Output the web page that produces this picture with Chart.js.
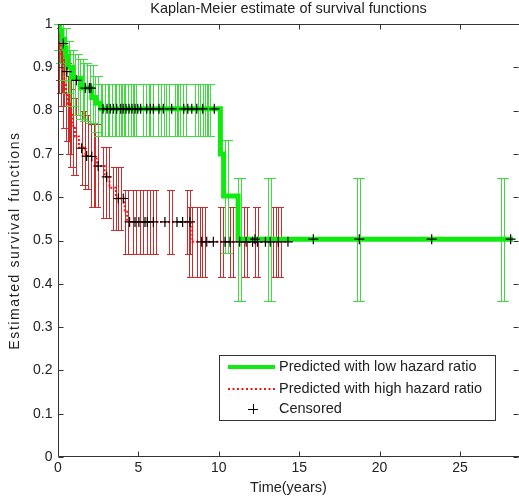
<!DOCTYPE html>
<html><head><meta charset="utf-8">
<script src="https://cdn.jsdelivr.net/npm/chart.js@4.4.0/dist/chart.umd.min.js"></script>
<style>html,body{margin:0;padding:0;background:#fff;}</style>
</head><body>
<canvas id="c" width="519" height="500"></canvas>
<script>
// ---------- data ----------
const chartTitle = 'Kaplan-Meier estimate of survival functions';
const xTitle = 'Time(years)';
const yTitle = 'Estimated survival functions';
const xTicks = [0, 5, 10, 15, 20, 25];
const yTicks = [0, 0.1, 0.2, 0.3, 0.4, 0.5, 0.6, 0.7, 0.8, 0.9, 1];
const legendLabels = ['Predicted with low hazard ratio', 'Predicted with high hazard ratio', 'Censored'];

// low hazard ratio group (green)
const lowTimes = [0, 0.1, 0.25, 0.4, 0.5, 0.6, 0.9, 1.4, 2.1, 2.35, 2.65, 10.1, 10.3, 11.2, 28.3];
const lowSurv  = [1, 0.985, 0.965, 0.945, 0.925, 0.9, 0.875, 0.852, 0.83, 0.817, 0.804, 0.70, 0.603, 0.503, 0.503];

// high hazard ratio group (red)
const highTimes = [0, 0.1, 0.2, 0.3, 0.4, 0.5, 0.6, 0.75, 0.9, 1.05, 1.3, 1.7, 2.4, 2.9, 3.2, 3.6, 4.15, 4.3, 8.35, 14.3];
const highSurv  = [1, 0.955, 0.925, 0.895, 0.865, 0.84, 0.815, 0.79, 0.765, 0.74, 0.715, 0.695, 0.672, 0.647, 0.622, 0.597, 0.57, 0.543, 0.497, 0.497];

// censored observations
const censLowT = [0.33, 0.55, 1.15, 1.7, 1.95, 2.05,
  2.8, 3.05, 3.25, 3.45, 3.65, 3.9, 4.05, 4.23, 4.42, 4.6, 4.79, 4.96, 5.14, 5.52, 5.74, 5.93, 6.28, 6.55, 7.07, 7.82, 8.07, 8.32, 8.63, 9.0, 9.72,
  12.25, 15.88, 18.74, 23.24, 28.15];
const censLowS = [0.955, 0.89, 0.87, 0.852, 0.852, 0.852,
  0.804, 0.804, 0.804, 0.804, 0.804, 0.804, 0.804, 0.804, 0.804, 0.804, 0.804, 0.804, 0.804, 0.804, 0.804, 0.804, 0.804, 0.804, 0.804, 0.804, 0.804, 0.804, 0.804, 0.804, 0.804,
  0.503, 0.503, 0.503, 0.503, 0.503];
const censHighT = [1.47, 1.78, 2.1, 2.5, 3.03, 3.75, 4.06,
  4.45, 4.79, 5.03, 5.41, 5.55, 5.93, 6.65, 7.4, 7.75, 8.21,
  8.94, 9.25, 9.66, 10.39, 10.7, 11.3, 11.7, 12.1, 12.4, 12.9, 13.2, 13.7, 14.3];
const censHighS = [0.713, 0.695, 0.694, 0.672, 0.647, 0.597, 0.597,
  0.543, 0.543, 0.543, 0.543, 0.543, 0.543, 0.543, 0.543, 0.543, 0.543,
  0.497, 0.497, 0.497, 0.497, 0.497, 0.497, 0.497, 0.497, 0.497, 0.497, 0.497, 0.497, 0.497];

// confidence intervals (error bars)
const lowErrT  = [0.1, 0.25, 0.45, 0.6, 0.9, 1.2, 1.5, 1.75, 2.1, 2.4,
  2.6, 2.85, 3.05, 3.3, 3.5, 3.75, 3.92, 4.06, 4.31, 4.48, 4.68, 4.79, 5.41, 5.62, 5.83, 6.34, 6.51, 6.82, 7.38, 7.54, 7.69, 7.9, 8.63, 8.94, 9.25, 9.41,
  10.5, 11.3, 13.2, 18.74, 27.7];
const lowErrLo = [0.94, 0.91, 0.87, 0.84, 0.81, 0.79, 0.78, 0.775, 0.771, 0.75,
  0.741, 0.741, 0.741, 0.741, 0.741, 0.741, 0.741, 0.741, 0.741, 0.741, 0.741, 0.741, 0.741, 0.741, 0.741, 0.741, 0.741, 0.741, 0.741, 0.741, 0.741, 0.741, 0.741, 0.741, 0.741, 0.741,
  0.471, 0.36, 0.36, 0.36, 0.36];
const lowErrHi = [1.0, 1.0, 0.99, 0.96, 0.94, 0.93, 0.92, 0.91, 0.905, 0.88,
  0.861, 0.861, 0.861, 0.861, 0.861, 0.861, 0.861, 0.861, 0.861, 0.861, 0.861, 0.861, 0.861, 0.861, 0.861, 0.861, 0.861, 0.861, 0.861, 0.861, 0.861, 0.861, 0.861, 0.861, 0.861, 0.861,
  0.732, 0.644, 0.644, 0.644, 0.644];

const highErrT  = [0.1, 0.2, 0.3, 0.45, 0.6, 0.75, 0.9, 1.05, 1.6, 1.8, 2.2, 2.4, 2.9, 3.1, 3.55, 3.85,
  4.27, 4.79, 5.2, 5.68, 6.03, 7.0, 8.17,
  8.3, 8.75, 9.1, 10.2, 10.85, 11.7, 12.4, 13.5, 13.8];
const highErrLo = [0.87, 0.84, 0.81, 0.76, 0.73, 0.70, 0.67, 0.651, 0.628, 0.62, 0.578, 0.578, 0.552, 0.552, 0.524, 0.524,
  0.468, 0.468, 0.468, 0.468, 0.468, 0.468, 0.468,
  0.415, 0.415, 0.415, 0.415, 0.415, 0.415, 0.415, 0.415, 0.415];
const highErrHi = [1.0, 0.99, 0.97, 0.94, 0.91, 0.88, 0.85, 0.83, 0.80, 0.79, 0.77, 0.77, 0.716, 0.716, 0.67, 0.67,
  0.617, 0.617, 0.617, 0.617, 0.617, 0.617, 0.617,
  0.578, 0.578, 0.578, 0.578, 0.578, 0.578, 0.578, 0.578, 0.578];

// ---------- styles ----------
const GREEN = '#10ea10';
const GREEN_BAR = '#3fdc3f';
const RED = '#ff1010';
const RED_BAR = '#cc2b2b';
const FONT = "'Liberation Sans', Arial, sans-serif";
const TEXT = '#222';

const toPts = (xs, ys) => xs.map((x, i) => ({x, y: ys[i]}));

const errorBars = {
  id: 'errorBars',
  beforeDatasetsDraw(chart) {
    const {ctx, scales: {x, y}} = chart;
    const draw = (ts, lo, hi, color, cap) => {
      ctx.save();
      ctx.strokeStyle = color;
      ctx.lineWidth = 1;
      ts.forEach((t, i) => {
        const px = Math.round(x.getPixelForValue(t));
        const p1 = Math.round(y.getPixelForValue(lo[i])) + 0.5;
        const p2 = Math.round(y.getPixelForValue(hi[i])) + 0.5;
        ctx.beginPath();
        ctx.moveTo(px - 1.5, p1); ctx.lineTo(px - 1.5, p2);
        ctx.moveTo(px + 1.5, p1); ctx.lineTo(px + 1.5, p2);
        ctx.moveTo(px - cap, p1); ctx.lineTo(px + cap, p1);
        ctx.moveTo(px - cap, p2); ctx.lineTo(px + cap, p2);
        ctx.stroke();
      });
      ctx.restore();
    };
    draw(highErrT, highErrLo, highErrHi, RED_BAR, 4);
    draw(lowErrT, lowErrLo, lowErrHi, GREEN_BAR, 6);
  }
};

const frame = {
  id: 'frame',
  afterDatasetsDraw(chart) {
    const {ctx, chartArea: a, scales: {x, y}} = chart;
    ctx.save();
    ctx.strokeStyle = '#333';
    ctx.lineWidth = 1;
    ctx.beginPath();
    const L = Math.round(a.left) + 0.5, R = Math.round(a.right) + 0.5;
    const T = Math.round(a.top) + 0.5, B = Math.round(a.bottom) - 0.5;
    ctx.moveTo(R, T); ctx.lineTo(L, T); ctx.lineTo(L, B); ctx.lineTo(R, B);
    const tl = 5;
    xTicks.forEach(v => {
      const px = Math.round(x.getPixelForValue(v)) + 0.5;
      ctx.moveTo(px, B); ctx.lineTo(px, B - tl);
      ctx.moveTo(px, T); ctx.lineTo(px, T + tl);
    });
    yTicks.forEach(v => {
      const py = Math.round(y.getPixelForValue(v)) + 0.5;
      ctx.moveTo(L, py); ctx.lineTo(L + tl, py);
      ctx.moveTo(R - 1, py); ctx.lineTo(R - 1 - tl, py);
    });
    ctx.stroke();
    // y axis title
    ctx.translate(15, (a.top + a.bottom) / 2);
    ctx.rotate(-Math.PI / 2);
    ctx.fillStyle = TEXT;
    ctx.font = '14px ' + FONT;
    try { ctx.letterSpacing = '1.6px'; } catch (e) {}
    ctx.textAlign = 'center';
    ctx.textBaseline = 'middle';
    ctx.fillText(yTitle, 0, 0);
    ctx.restore();
  }
};

const legendBox = {
  id: 'legendBox',
  afterDraw(chart) {
    const ctx = chart.ctx;
    const bx = 219.5, by = 355.5, bw = 276, bh = 65;
    ctx.save();
    ctx.fillStyle = '#fff';
    ctx.fillRect(bx, by, bw, bh);
    ctx.strokeStyle = '#333';
    ctx.lineWidth = 1;
    ctx.strokeRect(bx, by, bw, bh);
    const rows = [367, 389, 409];
    const sx1 = 228, sx2 = 275, tx = 279;
    ctx.strokeStyle = GREEN; ctx.lineWidth = 4;
    ctx.beginPath(); ctx.moveTo(sx1, rows[0]); ctx.lineTo(sx2, rows[0]); ctx.stroke();
    ctx.strokeStyle = RED; ctx.lineWidth = 2; ctx.setLineDash([2, 2.5]);
    ctx.beginPath(); ctx.moveTo(sx1, rows[1]); ctx.lineTo(sx2, rows[1]); ctx.stroke();
    ctx.setLineDash([]);
    ctx.strokeStyle = '#000'; ctx.lineWidth = 1;
    ctx.beginPath();
    ctx.moveTo(248, rows[2] + 0.5); ctx.lineTo(258, rows[2] + 0.5);
    ctx.moveTo(253.5, rows[2] - 5); ctx.lineTo(253.5, rows[2] + 5);
    ctx.stroke();
    ctx.fillStyle = TEXT;
    ctx.font = '14.5px ' + FONT;
    ctx.textBaseline = 'middle';
    ctx.textAlign = 'left';
    legendLabels.forEach((s, i) => ctx.fillText(s, tx, rows[i]));
    ctx.restore();
  }
};

new Chart(document.getElementById('c'), {
  type: 'line',
  data: {
    datasets: [
      {
        label: legendLabels[2], type: 'scatter',
        data: toPts(censLowT, censLowS).concat(toPts(censHighT, censHighS)),
        pointStyle: 'cross', pointRadius: 5, pointBorderWidth: 1.2,
        borderColor: '#000', backgroundColor: '#000', showLine: false
      },
      {
        label: legendLabels[0], data: toPts(lowTimes, lowSurv),
        stepped: true, borderColor: GREEN, borderWidth: 5, pointRadius: 0, fill: false
      },
      {
        label: legendLabels[1], data: toPts(highTimes, highSurv),
        stepped: true, borderColor: RED, borderWidth: 2, borderDash: [2, 2], pointRadius: 0, fill: false
      }
    ]
  },
  options: {
    responsive: false,
    animation: false,
    devicePixelRatio: 1,
    layout: { padding: 0, autoPadding: false },
    plugins: {
      legend: { display: false },
      tooltip: { enabled: false },
      title: {
        display: true, text: chartTitle, fullSize: false, color: TEXT,
        font: { family: FONT, size: 14.5, weight: 'normal' },
        padding: { top: 0, bottom: 6.6 }
      }
    },
    scales: {
      x: {
        type: 'linear', min: 0, max: 28.67,
        afterBuildTicks: s => { s.ticks = xTicks.map(v => ({value: v})); },
        afterFit: s => { s.height = 43; s.paddingLeft = 0; s.paddingRight = 0; },
        grid: { display: false, drawTicks: false },
        border: { display: false },
        ticks: { color: TEXT, font: { family: FONT, size: 14 }, padding: 3, maxRotation: 0, autoSkip: false },
        title: { display: true, text: xTitle, color: TEXT, font: { family: FONT, size: 14.5 }, padding: { top: 0, bottom: 3.8 } }
      },
      y: {
        type: 'linear', min: 0, max: 1,
        afterBuildTicks: s => { s.ticks = yTicks.map(v => ({value: v})); },
        afterFit: s => { s.width = 58; s.paddingTop = 0; s.paddingBottom = 0; },
        grid: { display: false, drawTicks: false },
        border: { display: false },
        ticks: { color: TEXT, font: { family: FONT, size: 14 }, padding: 5.5, autoSkip: false,
          callback: v => String(Math.round(v * 10) / 10) },
        title: { display: false }
      }
    }
  },
  plugins: [errorBars, frame, legendBox]
});
</script>
</body></html>
